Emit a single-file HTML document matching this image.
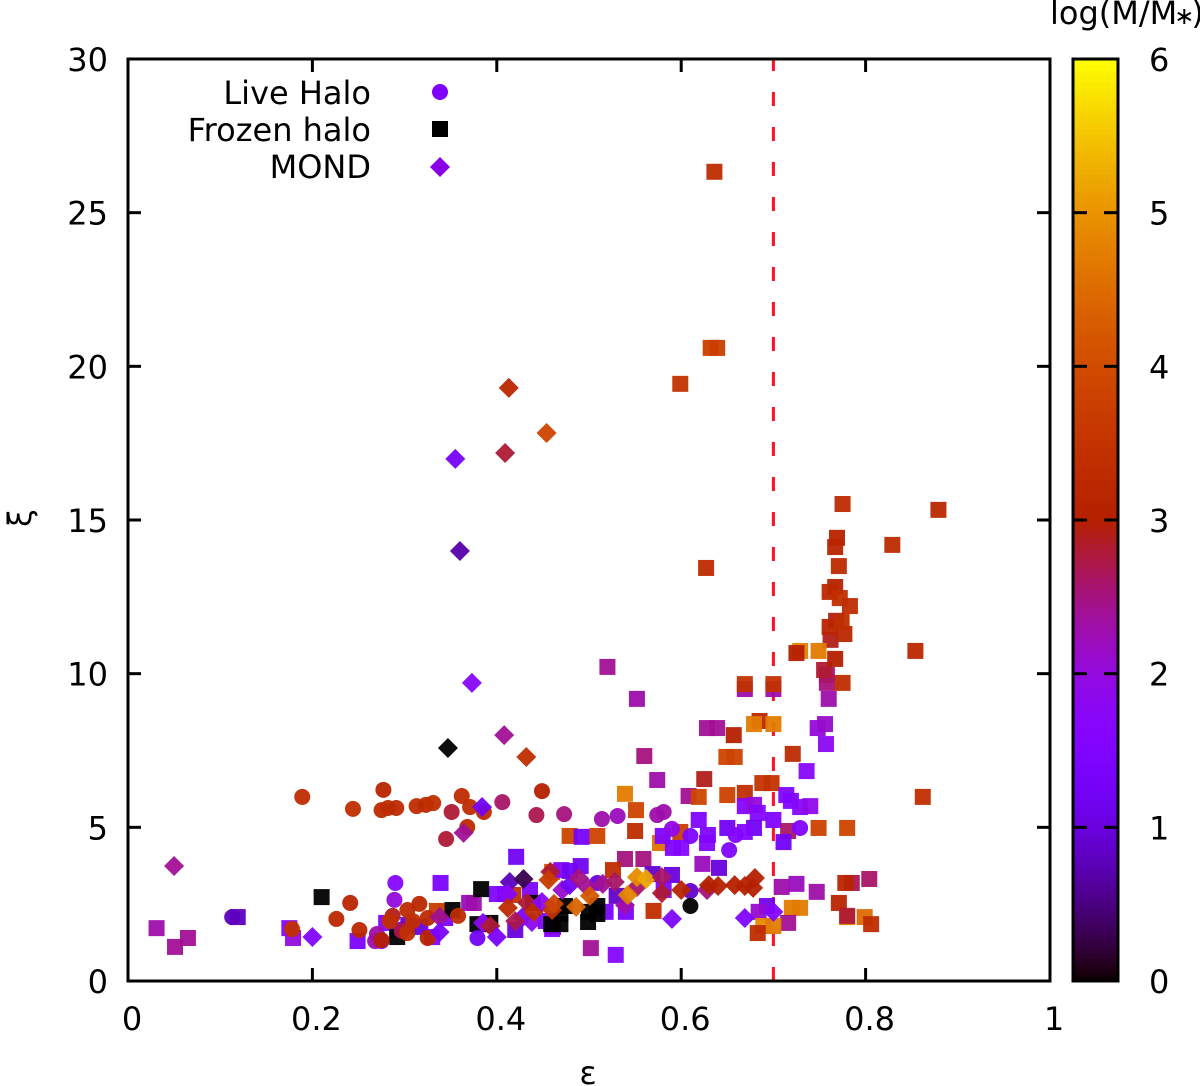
<!DOCTYPE html>
<html lang="en">
<head>
<meta charset="utf-8">
<title>Scatter chart of xi against epsilon</title>
<style>
html,body{margin:0;padding:0;background:#fff;}
svg{display:block;font-family:"DejaVu Sans","Liberation Sans",sans-serif;}
text{fill:#000;font-size:32px;}
</style>
</head>
<body>
<svg id="chart" xmlns="http://www.w3.org/2000/svg" width="1200" height="1086" viewBox="0 0 1200 1086">
  <rect x="0" y="0" width="1200" height="1086" fill="#fff"/>
  <g id="refLine"></g>
  <g id="frozenGroup"></g>
  <g id="liveGroup"></g>
  <g id="mondGroup"></g>
  <g id="axisGroup"></g>
  <g id="colorbar"></g>
  <g>
    <text x="371" y="104" text-anchor="end">Live Halo</text>
    <circle cx="440" cy="92" r="8" fill="#8000ff"/>
    <text x="371" y="141" text-anchor="end">Frozen halo</text>
    <rect x="432" y="121" width="16" height="16" fill="#000"/>
    <text x="371" y="178" text-anchor="end">MOND</text>
    <polygon points="440,157 450,167 440,177 430,167" fill="#8a00e6"/>
  </g>
  <text x="588" y="1084" text-anchor="middle">ε</text>
  <text x="0" y="0" text-anchor="middle" transform="translate(31,518) rotate(-90)">ξ</text>
  <text x="1050" y="24">log(M/M<tspan style="font-size:24px" dx="-3">∗</tspan><tspan dx="-3">)</tspan></text>
</svg>
<script>
// Each point: [epsilon, xi, log(M/M*)]
const frozenHalo = [
[.636,26.33,3.35],[.632,20.6,3.75],[.639,20.6,3.75],[.599,19.43,3.5],[.879,15.33,3.2],[.775,15.52,3.3],[.829,14.19,3.3],[.769,14.42,3.1],[.767,14.12,3.15],[.771,13.5,3.3],[.627,13.44,3.3],[.767,12.82,3.1],[.761,12.66,3.2],[.772,12.46,3.4],[.783,12.2,3.35],
[.76,9.18,2.3],[.758,9.7,2.5],[.758,9.96,2.6],[.755,10.12,2.8],[.775,9.7,3.35],[.767,10.48,3.0],[.762,11.1,2.9],[.768,11.72,2.9],[.761,11.52,3.15],[.777,11.29,3.2],[.774,11.68,3.4],[.854,10.74,3.2],[.729,10.74,4.8],[.749,10.74,4.7],[.725,10.67,3.0],
[.669,9.5,2.3],[.7,9.5,2.3],[.669,9.66,3.45],[.7,9.66,3.45],[.52,10.22,2.4],[.552,9.18,2.3],[.685,8.46,3.2],[.679,8.36,4.7],[.7,8.36,4.7],[.628,8.23,2.4],[.639,8.23,2.4],[.657,8.0,3.0],[.748,8.23,2.0],[.756,8.36,2.1],[.757,7.71,1.8],[.56,7.32,2.5],[.649,7.29,3.85],[.658,7.29,3.85],[.721,7.39,3.3],[.736,6.83,1.7],[.574,6.54,2.3],[.625,6.57,2.9],[.688,6.44,3.5],[.698,6.44,3.5],
[.539,6.09,4.7],[.608,6.02,2.4],[.619,5.99,3.9],[.65,6.05,3.8],[.669,6.12,3.4],[.862,5.99,3.4],[.714,6.05,1.5],[.719,5.86,1.5],[.729,5.66,1.7],[.74,5.69,1.9],[.669,5.69,1.6],[.679,5.73,2.0],[.683,5.47,1.6],[.551,5.56,3.85],[.619,5.24,1.5],[.7,5.24,1.5],[.55,4.88,3.35],[.716,4.88,2.6],[.65,4.98,1.2],[.679,4.98,1.2],[.669,4.85,1.6],[.749,4.98,3.8],[.78,4.98,3.85],
[.479,4.72,3.85],[.492,4.69,1.3],[.509,4.72,3.85],[.599,4.85,3.7],[.577,4.49,4.6],[.58,4.72,1.5],[.629,4.75,1.5],[.628,4.49,1.6],[.591,4.33,1.5],[.6,4.33,1.6],[.711,4.52,1.2],[.421,4.04,1.2],[.539,3.97,2.5],[.559,3.97,2.5],[.623,3.81,2.2],[.641,3.68,1.0],[.491,3.74,1.2],[.46,3.55,4.1],[.47,3.61,1.7],[.526,3.61,3.35],[.339,3.19,1.4],[.37,2.54,2.2],[.569,3.48,0.9],[.59,3.45,1.0],[.581,2.96,1.5],[.57,2.28,3.4],[.518,2.25,1.4],
[.709,3.06,2.3],[.725,3.16,2.2],[.747,2.9,2.3],[.785,3.19,2.7],[.778,3.19,3.15],[.804,3.32,2.6],[.771,2.54,3.15],[.78,2.08,4.7],[.78,2.12,2.8],[.799,2.08,4.5],[.806,1.85,3.35],[.72,2.38,4.7],[.729,2.38,4.7],[.693,2.44,1.2],[.684,2.25,2.1],[.689,1.79,4.9],[.716,1.89,2.4],[.7,1.79,4.7],[.683,1.56,3.35],[.502,1.07,2.4],[.529,.85,1.6],
[.031,1.72,2.3],[.065,1.4,2.4],[.051,1.11,2.4],[.119,2.08,.8],[.175,1.72,1.6],[.179,1.4,2.0],[.249,1.3,1.4],[.28,1.89,1.5],[.292,1.66,1.5],[.304,1.82,1.0],[.317,1.76,1.0],[.344,2.05,1.4],[.335,2.28,3.7],[.33,1.43,1.6],[.375,2.54,2.3],[.4,2.83,1.5],[.409,2.83,1.5],[.42,1.66,1.0],[.461,1.76,1.5],[.436,2.96,1.5],
[.418,2.8,3.45],[.453,1.95,1.5],[.46,1.69,1.7],[.479,3.58,1.2],[.530,2.77,0.9],[.54,2.25,1.4],
[.21,2.73,0],[.383,2.99,0],[.379,1.85,0],[.389,1.85,0],[.352,2.31,0],[.292,1.43,0],[.459,1.85,0],[.469,1.85,0],[.469,2.18,0],[.474,2.44,0],[.499,1.92,0],[.5,2.25,0],[.509,2.44,0],[.509,2.18,0],[.439,2.54,0],[.393,1.89,0]
];
const liveHalo = [
[.189,5.99,3.35],[.244,5.6,3.4],[.277,6.22,3.15],[.275,5.56,3.3],[.282,5.63,3.35],[.291,5.63,3.3],[.313,5.69,3.35],[.323,5.73,3.3],[.331,5.79,3.4],[.362,6.02,3.35],[.351,5.5,2.8],[.371,5.66,3.35],[.345,4.62,2.8],[.368,5.01,3.3],[.386,5.5,3.3],[.406,5.82,2.6],[.449,6.18,3.0],[.443,5.4,2.7],[.473,5.43,2.5],[.514,5.27,2.3],[.531,5.37,2.2],[.574,5.4,2.3],[.581,5.5,2.3],[.59,4.95,1.9],[.61,4.72,1.5],[.659,4.75,1.6],[.652,4.26,1.5],[.729,4.98,1.5],[.61,2.93,.9],[.61,2.44,0],[.379,1.4,1.2],[.509,3.19,1.0],[.113,2.08,.8],
[.29,3.19,1.6],[.289,2.64,2.0],[.241,2.54,3.15],[.226,2.02,3.2],[.178,1.69,3.45],[.251,1.66,3.2],[.27,1.53,2.3],[.275,1.3,1.8],[.268,1.3,2.3],[.275,1.33,3.0],[.287,2.12,2.9],[.303,2.31,3.3],[.316,2.51,3.2],[.297,1.63,2.7],[.284,1.95,3.4],[.309,1.95,3.4],[.303,1.56,3.4],[.325,2.05,3.3],[.325,1.4,3.15],[.358,2.12,3.35]
];
const mond = [
[.355,16.99,1.3],[.36,13.99,.7],[.373,9.7,1.7],[.347,7.58,0],[.408,8.0,2.4],[.432,7.29,3.4],[.413,19.3,3.2],[.409,17.18,2.8],[.454,17.83,3.85],[.05,3.74,2.4],[.2,1.43,1.5],[.338,2.08,2.4],[.338,1.59,1.4],[.364,4.82,2.4],[.384,5.66,1.2],
[.385,1.89,1.8],[.393,1.79,2.8],[.4,1.43,1.4],[.414,3.22,.8],[.429,3.32,.3],[.412,2.83,1.7],[.412,2.38,3.3],[.428,2.08,1.4],[.438,1.92,1.8],[.42,1.95,2.7],[.433,2.54,2.8],[.44,2.25,3.35],[.449,2.57,1.8],[.458,3.55,2.8],[.456,3.29,3.7],[.471,2.96,2.1],[.479,3.12,1.2],[.489,3.35,2.5],[.498,3.06,2.4],[.46,2.31,3.45],[.462,2.51,3.9],[.486,2.41,4.4],[.501,2.77,4.2],[.515,3.16,2.4],[.528,3.22,2.6],[.539,2.47,2.3],[.552,3.06,2.6],[.542,2.8,4.8],[.552,3.38,4.9],[.562,3.32,5.2],[.579,3.38,2.6],[.579,2.86,2.8],[.6,2.96,3.15],[.59,2.02,1.5],[.628,2.96,2.5],[.63,3.12,3.0],[.64,3.09,3.0],[.658,3.12,3.0],[.669,3.09,3.0],[.68,3.35,3.0],[.678,3.03,3.0],[.669,2.05,1.5],[.7,2.25,1.6]
];
const xTickValues = [0,0.2,0.4,0.6,0.8,1];
const xTickLabels = ["0","0.2","0.4","0.6","0.8","1"];
const yTickValues = [0,5,10,15,20,25,30];
const cbTickValues = [0,1,2,3,4,5,6];
const refEpsilon = [0.7];

const NS = "http://www.w3.org/2000/svg";
const L = 128, R = 1050, T = 59, B = 981;
const xDomain = [0, 1], yDomain = [0, 30], cDomain = [0, 6];
function sx(v){ return L + (v - xDomain[0]) / (xDomain[1] - xDomain[0]) * (R - L); }
function sy(v){ return B - (v - yDomain[0]) / (yDomain[1] - yDomain[0]) * (B - T); }
function sc(v){ return B - (v - cDomain[0]) / (cDomain[1] - cDomain[0]) * (B - T); }
function palette(v){
  const g = Math.max(0, Math.min(1, (v - cDomain[0]) / (cDomain[1] - cDomain[0])));
  const r = Math.sqrt(g), gr = g * g * g, b = Math.max(0, Math.sin(2 * Math.PI * g));
  return "rgb(" + Math.round(r * 255) + "," + Math.round(gr * 255) + "," + Math.round(b * 255) + ")";
}
function mk(tag, parent, attrs){
  const el = document.createElementNS(NS, tag);
  for (const k in attrs) el.setAttribute(k, attrs[k]);
  parent.appendChild(el);
  return el;
}

// reference line (dashes phased from the bottom edge)
const refLineGroup = document.getElementById("refLine");
refEpsilon.forEach(function(e){
  const ln = mk("line", refLineGroup, {x1:sx(e), x2:sx(e), y1:B, y2:T, stroke:"#ff1020", "stroke-width":3, "stroke-dasharray":"14 21"});
  
  
});

// series
const frozenGroup = document.getElementById("frozenGroup");
frozenHalo.forEach(function(p){
  const el = mk("rect", frozenGroup, {x:sx(p[0]) - 8, y:sy(p[1]) - 8, width:16, height:16, fill:palette(p[2]), "fill-opacity":0.95});
  
  
});
const liveGroup = document.getElementById("liveGroup");
liveHalo.forEach(function(p){
  const el = mk("circle", liveGroup, {cx:sx(p[0]), cy:sy(p[1]), r:8, fill:palette(p[2]), "fill-opacity":0.95});
  
  
});
const mondGroup = document.getElementById("mondGroup");
mond.forEach(function(p){
  const cx = sx(p[0]), cy = sy(p[1]), d = 10;
  const el = mk("polygon", mondGroup, {points:cx + "," + (cy - d) + " " + (cx + d) + "," + cy + " " + cx + "," + (cy + d) + " " + (cx - d) + "," + cy, fill:palette(p[2]), "fill-opacity":0.95});
  
  
});

// axes
const axisGroup = document.getElementById("axisGroup");
const TICK = 13;
xTickValues.forEach(function(v, i){
  if (v > xDomain[0] && v < xDomain[1]) {
    const t1 = mk("line", axisGroup, {x1:sx(v), x2:sx(v), y1:B, y2:B - TICK, stroke:"#000", "stroke-width":3});
    
    
    const t2 = mk("line", axisGroup, {x1:sx(v), x2:sx(v), y1:T, y2:T + TICK, stroke:"#000", "stroke-width":3});
    
    
  }
  const lb = mk("text", axisGroup, {x:sx(v) + 4, y:1030, "text-anchor":"middle"});
  lb.textContent = xTickLabels[i];
  
  
});
yTickValues.forEach(function(v){
  if (v > yDomain[0] && v < yDomain[1]) {
    const t1 = mk("line", axisGroup, {x1:L, x2:L + TICK, y1:sy(v), y2:sy(v), stroke:"#000", "stroke-width":3});
    
    
    const t2 = mk("line", axisGroup, {x1:R, x2:R - TICK, y1:sy(v), y2:sy(v), stroke:"#000", "stroke-width":3});
    
    
  }
  const lb = mk("text", axisGroup, {x:108, y:sy(v) + 12, "text-anchor":"end"});
  lb.textContent = String(v);
  
  
});
const frame = mk("rect", axisGroup, {x:L, y:T, width:R - L, height:B - T, fill:"none", stroke:"#000", "stroke-width":3});



// colorbar
const cb = document.getElementById("colorbar");
const CL = 1073, CR = 1118, steps = 160;
for (let i = 0; i < steps; i++) {
  const v0 = cDomain[0] + (cDomain[1] - cDomain[0]) * i / steps;
  const v1 = cDomain[0] + (cDomain[1] - cDomain[0]) * (i + 1) / steps;
  const seg = mk("rect", cb, {x:CL, y:sc(v1), width:CR - CL, height:sc(v0) - sc(v1) + 0.6, fill:palette((v0 + v1) / 2)});
  
  
}
cbTickValues.forEach(function(v){
  if (v > cDomain[0] && v < cDomain[1]) {
    const t1 = mk("line", cb, {x1:CL, x2:CL + TICK + 1, y1:sc(v), y2:sc(v), stroke:"#000", "stroke-width":3});
    
    
    const t2 = mk("line", cb, {x1:CR, x2:CR - TICK - 1, y1:sc(v), y2:sc(v), stroke:"#000", "stroke-width":3});
    
    
  }
  const lb = mk("text", cb, {x:1149, y:sc(v) + 12});
  lb.textContent = String(v);
  
  
});
const cbFrame = mk("rect", cb, {x:CL, y:T, width:CR - CL, height:B - T, fill:"none", stroke:"#000", "stroke-width":3});


</script>
</body>
</html>
